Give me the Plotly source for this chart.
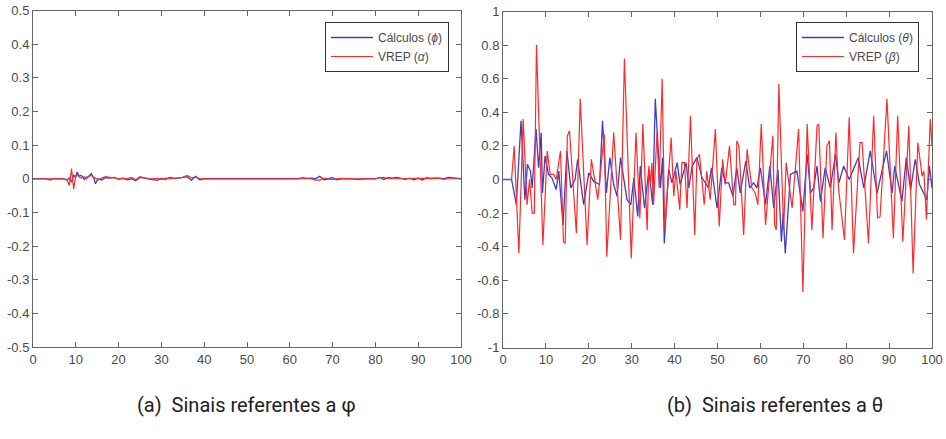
import plotly.graph_objects as go

# ---------- data: panel (a) ----------
phi_x = [0, 3, 4, 5, 7, 8, 8.5, 9, 9.5, 10, 10.3, 10.8, 11.3, 12, 12.5, 13, 13.6, 14.2, 14.6, 15.2, 16, 17, 18, 19, 20,
         21, 22, 23, 24, 25, 26, 27, 28, 29, 30, 31, 32, 33, 34, 35, 36, 37, 38, 39, 40, 45, 50, 55, 57, 60,
         62, 63, 64, 65, 66, 67, 68, 69, 70, 71, 72, 74, 76, 78, 80, 81, 82, 83, 84, 85, 86, 87, 88, 89,
         90, 91, 92, 93, 94, 95, 96, 97, 100]
phi_calc = [0, 0, -0.004, 0, 0, -0.003, 0.002, -0.01, 0.01, 0.005, 0.02, 0.008, 0.01, -0.002, 0.004, 0.006, 0.015, 0.002,
            -0.015, 0.0, -0.004, 0.003, 0.002, 0.004, -0.002, 0.002, -0.003, 0.0, -0.006, 0.004, 0.002, 0.0,
            -0.004, -0.005, 0.001, -0.002, 0.004, 0.001, 0.002, 0.004, 0.006, -0.004, 0.007, -0.003, 0.0, 0.0,
            0.0, 0.0, -0.002, 0.0, 0.0, 0.003, 0.001, 0.002, 0.0, 0.007, -0.003, 0.0, 0.003, -0.003, 0.0, 0.0,
            -0.002, 0.0, 0.0, 0.004, -0.002, 0.003, 0.002, 0.004, 0.001, -0.002, 0.002, -0.003, 0.002, -0.004,
            0.003, 0.0, 0.002, 0.0, 0.0, 0.004, 0.0]
alpha_vrep = [0, 0, 0, 0, 0, -0.004, -0.02, 0.03, -0.03, 0.01, 0.012, 0.005, 0.002, 0.006, 0.0, 0.008, 0.01, 0.004,
              0.002, -0.004, 0.002, 0.006, 0.004, 0.002, 0.0, 0.001, 0.0, 0.004, -0.003, 0.006, 0.002, 0.0,
              0.0, 0.001, -0.002, 0.002, 0.0, 0.002, 0.002, 0.004, 0.01, 0.003, 0.005, 0.0, 0.0, 0.0,
              0.0, 0.0, 0.0, 0.0, 0.0, 0.0, 0.001, 0.0, -0.004, -0.004, 0.002, 0.0, -0.003, 0.0, 0.001, 0.0,
              0.0, 0.0, 0.0, 0.003, 0.004, 0.0, 0.0, 0.002, 0.0, 0.0, 0.0, 0.0, 0.0, 0.002,
              0.0, 0.001, 0.0, 0.002, -0.002, 0.0, 0.0]

# ---------- data: panel (b) ----------
theta_x = [0, 2.0, 3.1, 4.2, 5.1, 5.7, 6.4, 6.8, 7.7, 8.3, 8.9, 9.2, 9.8, 10.6, 11.4, 12.4, 13.0, 14.0, 14.9, 15.8,
           16.8, 17.4, 18.8, 20.0, 21.1, 22.5, 23.2, 24.1, 24.9, 25.8, 26.6, 27.4, 28.9, 29.8, 30.5, 31.4, 32.0,
           33.0, 34.0, 34.9, 35.5, 36.7, 37.2, 37.6, 38.6, 39.4, 40.6, 41.3, 42.7, 43.3, 44.1, 45.2, 46.4, 47.9,
           48.6, 49.9, 51.0, 51.8, 52.6, 53.6, 54.5, 55.3, 56.6, 57.5, 58.4, 59.2, 60.0, 61.2, 62.2, 63.1, 64.1,
           64.9, 65.3, 65.8, 67.0, 68.5, 69.9, 70.9, 71.7, 72.4, 73.2, 74.0, 75.1, 76.3, 77.5, 78.3, 79.4, 80.7,
           82.8, 84.1, 85.6, 87.2, 89.4, 90.7, 91.3, 93.0, 94.0, 95.0, 96.1, 97.1, 98.8, 99.4, 100]
theta_calc = [0, 0, -0.15, 0.35, -0.12, 0.09, 0.05, -0.05, 0.30, 0.07, 0.28, -0.08, 0.14, 0.03, 0.01, -0.06, 0.05,
              -0.27, 0.17, -0.05, 0.0, 0.12, -0.15, 0.04, -0.01, -0.03, 0.35, -0.08, 0.13, -0.03, -0.10, 0.13,
              -0.12, -0.15, 0.01, -0.22, 0.08, -0.17, 0.06, -0.15, 0.48, -0.05, 0.13, -0.38, 0.06, -0.02, 0.10,
              -0.03, 0.10, -0.05, 0.08, 0.13, 0.01, -0.05, 0.07, -0.17, 0.07, -0.02, -0.02, -0.10, 0.07, -0.08,
              0.11, -0.05, -0.02, -0.05, 0.07, -0.15, 0.08, -0.17, 0.06, -0.37, -0.20, -0.44, 0.03, 0.05, -0.19,
              0.15, -0.08, -0.05, 0.08, -0.13, 0.07, -0.05, 0.15, -0.02, 0.08, 0.0, 0.13, -0.05, 0.17, -0.08,
              0.17, -0.08, 0.08, -0.13, 0.13, -0.06, 0.12, -0.03, -0.12, 0.08, -0.05]

beta_x = [0, 2.0, 2.6, 3.7, 4.7, 5.6, 6.2, 6.8, 7.3, 7.8, 9.3, 10.3, 11.0, 11.8, 12.4, 13.4, 14.1, 14.5, 15.0, 15.5,
          17.1, 18.0, 19.6, 20.6, 22.1, 23.6, 24.2, 25.8, 27.4, 28.3, 29.9, 31.0, 31.9, 32.6, 33.6, 34.0, 34.4,
          34.7, 35.1, 35.9, 36.4, 37.1, 37.7, 39.2, 39.8, 40.3, 41.2, 41.7, 42.3, 42.9, 43.7, 44.7, 45.2, 45.8,
          46.9, 47.5, 48.3, 49.5, 50.4, 51.2, 51.8, 52.8, 53.8, 54.2, 54.5, 55.0, 56.1, 56.9, 58.0, 58.8, 59.4,
          60.2, 61.2, 62.9, 63.3, 63.7, 64.3, 65.4, 66.0, 67.4, 68.9, 69.9, 70.9, 72.0, 73.2, 73.6, 74.6, 75.5,
          76.1, 76.7, 77.6, 78.2, 79.6, 80.7, 81.7, 83.2, 83.7, 85.2, 86.4, 87.3, 87.9, 89.5, 91.0, 92.0, 93.2,
          94.6, 95.6, 96.7, 97.7, 98.1, 98.7, 99.6, 100]
beta_vrep = [0, 0, 0.20, -0.44, 0.36, -0.15, 0.0, -0.20, -0.20, 0.80, -0.39, 0.17, 0.03, 0.03, 0.0, 0.17, -0.37,
             -0.38, 0.26, 0.29, -0.32, 0.48, -0.39, 0.12, -0.12, 0.27, -0.46, 0.28, -0.36, 0.72, -0.47, 0.28,
             -0.23, 0.33, -0.30, 0.08, -0.02, 0.10, -0.15, 0.28, -0.05, 0.60, -0.30, 0.25, -0.10, 0.05, -0.18,
             0.10, 0.10, -0.17, 0.38, -0.33, 0.12, 0.15, -0.15, 0.05, -0.12, 0.30, -0.28, 0.12, -0.03, 0.20,
             -0.15, -0.15, 0.23, 0.20, -0.33, 0.18, -0.05, -0.08, -0.15, 0.33, -0.27, 0.26, -0.27, -0.30, 0.57,
             -0.30, 0.10, -0.17, 0.30, -0.67, 0.33, -0.30, 0.32, 0.33, -0.35, 0.20, 0.23, -0.30, 0.28, -0.05,
             -0.36, 0.37, -0.44, 0.22, 0.22, -0.38, 0.38, -0.23, -0.22, 0.48, -0.35, 0.38, -0.37, 0.32, -0.56,
             0.22, 0.02, 0.05, -0.24, 0.36, 0.20]

# ---------- tick labels ----------
x_ticks = [0, 10, 20, 30, 40, 50, 60, 70, 80, 90, 100]
y_ticks_a = [-0.5, -0.4, -0.3, -0.2, -0.1, 0, 0.1, 0.2, 0.3, 0.4, 0.5]
y_ticklabels_a = ["-0.5", "-0.4", "-0.3", "-0.2", "-0.1", "0", "0.1", "0.2", "0.3", "0.4", "0.5"]
y_ticks_b = [-1, -0.8, -0.6, -0.4, -0.2, 0, 0.2, 0.4, 0.6, 0.8, 1]
y_ticklabels_b = ["-1", "-0.8", "-0.6", "-0.4", "-0.2", "0", "0.2", "0.4", "0.6", "0.8", "1"]
captions = ["(a)  Sinais referentes a φ", "(b)  Sinais referentes a θ"]

BLUE = "#3b3fc4"
RED = "#ff2a2a"
AXC = "#666666"
TXC = "#4a4a4a"
FONT = "Liberation Sans"

fig = go.Figure()
fig.add_trace(go.Scatter(x=phi_x, y=phi_calc, mode="lines", line=dict(color=BLUE, width=1.3),
                         name="Cálculos (<i>ϕ</i>)", xaxis="x", yaxis="y", legend="legend"))
fig.add_trace(go.Scatter(x=phi_x, y=alpha_vrep, mode="lines", line=dict(color=RED, width=1.2),
                         name="VREP (<i>α</i>)", xaxis="x", yaxis="y", legend="legend"))
fig.add_trace(go.Scatter(x=theta_x, y=theta_calc, mode="lines", line=dict(color=BLUE, width=1.3),
                         name="Cálculos (<i>θ</i>)", xaxis="x2", yaxis="y2", legend="legend2"))
fig.add_trace(go.Scatter(x=beta_x, y=beta_vrep, mode="lines", line=dict(color=RED, width=1.2),
                         name="VREP (<i>β</i>)", xaxis="x2", yaxis="y2", legend="legend2"))

ax_common = dict(showline=True, linecolor=AXC, linewidth=1, mirror="ticks", ticks="inside",
                 ticklen=5, tickcolor=AXC, showgrid=False, zeroline=False, automargin=False,
                 tickfont=dict(family=FONT, size=13, color=TXC))

W, H = 946, 439
def px(v): return v / W
def py(v): return 1 - v / H

fig.update_layout(
    width=W, height=H, margin=dict(l=0, r=0, t=0, b=0),
    paper_bgcolor="white", plot_bgcolor="white",
    xaxis=dict(domain=[px(33), px(461)], range=[0, 100], tickvals=x_ticks, anchor="y", **ax_common),
    yaxis=dict(domain=[py(347), py(10.5)], range=[-0.5, 0.5], tickvals=y_ticks_a,
               ticktext=y_ticklabels_a, anchor="x", **ax_common),
    xaxis2=dict(domain=[px(503), px(932)], range=[0, 100], tickvals=x_ticks, anchor="y2", **ax_common),
    yaxis2=dict(domain=[py(347.5), py(11.5)], range=[-1, 1], tickvals=y_ticks_b,
                ticktext=y_ticklabels_b, anchor="x2", **ax_common),
    legend=dict(x=px(449), y=py(22), xanchor="right", yanchor="top", bgcolor="white",
                bordercolor="#333333", borderwidth=1, font=dict(family=FONT, size=12, color=TXC),
                itemwidth=42, tracegroupgap=0),
    legend2=dict(x=px(919), y=py(22), xanchor="right", yanchor="top", bgcolor="white",
                 bordercolor="#333333", borderwidth=1, font=dict(family=FONT, size=12, color=TXC),
                 itemwidth=42, tracegroupgap=0),
    showlegend=True,
    annotations=[
        dict(text=captions[0], x=px(246), y=py(405), xref="paper", yref="paper", showarrow=False,
             xanchor="center", yanchor="middle", font=dict(family="Roboto", size=20, color="#222222")),
        dict(text=captions[1], x=px(775), y=py(405), xref="paper", yref="paper", showarrow=False,
             xanchor="center", yanchor="middle", font=dict(family="Roboto", size=20, color="#222222")),
    ],
)

fig.write_html("out.html", config={"displayModeBar": False},
               post_script="document.body.style.margin='0';document.body.style.padding='0';")
